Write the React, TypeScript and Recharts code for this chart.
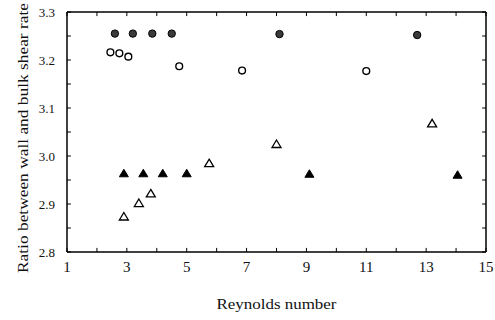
import { ScatterChart, Scatter, XAxis, YAxis, Label, ReferenceLine } from "recharts"

// Reynolds number (x) and wall/bulk shear rate ratio (y), one pair of arrays per marker type
const reFilledCircle = [2.6, 3.2, 3.85, 4.5, 8.1, 12.7]
const ratioFilledCircle = [3.255, 3.255, 3.255, 3.255, 3.254, 3.252]
const reOpenCircle = [2.45, 2.75, 3.05, 4.75, 6.85, 11.0]
const ratioOpenCircle = [3.216, 3.214, 3.207, 3.187, 3.178, 3.177]
const reFilledTriangle = [2.9, 3.55, 4.2, 5.0, 9.1, 14.05]
const ratioFilledTriangle = [2.964, 2.964, 2.964, 2.964, 2.963, 2.961]
const reOpenTriangle = [2.9, 3.4, 3.8, 5.75, 8.0, 13.2]
const ratioOpenTriangle = [2.874, 2.902, 2.922, 2.985, 3.025, 3.068]

const xTicks = [1, 2, 3, 4, 5, 6, 7, 8, 9, 10, 11, 12, 13, 14, 15]
const yTicks = [2.8, 2.85, 2.9, 2.95, 3.0, 3.05, 3.1, 3.15, 3.2, 3.25, 3.3]

const X_MIN = 1
const X_MAX = 15
const Y_MIN = 2.8
const Y_MAX = 3.3
// inward tick length, in data units (~4px)
const X_TICK_LEN = 0.13
const Y_TICK_LEN = 0.0085

const FONT = '"Liberation Serif", "Times New Roman", serif'

const toPoints = (xs: number[], ys: number[]) => xs.map((x, i) => ({ x, y: ys[i] }))

const FilledCircle = (p: any) => <circle cx={p.cx} cy={p.cy} r={3.7} fill="#3a3a3a" stroke="#000" strokeWidth={1} />
const OpenCircle = (p: any) => <circle cx={p.cx} cy={p.cy} r={3.4} fill="#fff" stroke="#000" strokeWidth={1.4} />
const triPath = (cx: number, cy: number) => `M${cx},${cy - 4} L${cx + 4.5},${cy + 3.5} L${cx - 4.5},${cy + 3.5} Z`
const FilledTriangle = (p: any) => <path d={triPath(p.cx, p.cy)} fill="#000" stroke="#000" strokeWidth={1} />
const OpenTriangle = (p: any) => <path d={triPath(p.cx, p.cy)} fill="#fff" stroke="#000" strokeWidth={1.3} />

const xLabel = (v: number) => (v % 2 === 1 ? String(v) : "")
const yLabel = (v: number) => (Math.abs(v * 10 - Math.round(v * 10)) < 1e-6 ? v.toFixed(1) : "")

function YTitle({ viewBox }: any) {
  const cx = viewBox.x + 28
  const cy = viewBox.y + viewBox.height / 2 + 6
  return (
    <text
      x={cx}
      y={cy}
      transform={`rotate(-90, ${cx}, ${cy})`}
      textAnchor="middle"
      fontFamily={FONT}
      fontSize={15}
      fill="#111"
      textLength={270}
      lengthAdjust="spacingAndGlyphs"
    >
      Ratio between wall and bulk shear rate
    </text>
  )
}

function XTitle({ viewBox }: any) {
  const cx = viewBox.x + viewBox.width / 2
  return (
    <text
      x={cx}
      y={309}
      textAnchor="middle"
      fontFamily={FONT}
      fontSize={15}
      fill="#111"
      textLength={120}
      lengthAdjust="spacingAndGlyphs"
    >
      Reynolds number
    </text>
  )
}

export default function App() {
  const axisLine = { stroke: "#000", strokeWidth: 1.5 }
  const tick = { stroke: "#000", strokeWidth: 1 }
  return (
    <div style={{ position: "absolute", left: 0, top: 0, background: "#fff" }}>
      <ScatterChart width={495} height={320} margin={{ top: 12, right: 9, left: 0, bottom: 0 }}>
        <XAxis
          xAxisId="b"
          type="number"
          dataKey="x"
          domain={[X_MIN, X_MAX]}
          allowDataOverflow
          ticks={xTicks}
          interval={0}
          tickFormatter={xLabel}
          tickLine={false}
          tickSize={0}
          tickMargin={9}
          height={68}
          axisLine={axisLine}
          tick={{ fontFamily: FONT, fontSize: 15, fill: "#111" }}
        >
          <Label content={<XTitle />} />
        </XAxis>
        <YAxis
          yAxisId="l"
          type="number"
          dataKey="y"
          domain={[Y_MIN, Y_MAX]}
          allowDataOverflow
          ticks={yTicks}
          interval={0}
          tickFormatter={yLabel}
          tickLine={false}
          tickSize={0}
          tickMargin={12}
          width={67}
          axisLine={axisLine}
          tick={{ fontFamily: FONT, fontSize: 13, fill: "#111" }}
        >
          <Label content={<YTitle />} />
        </YAxis>

        {/* frame: top and right edges */}
        <ReferenceLine xAxisId="b" yAxisId="l" y={Y_MAX} stroke="#000" strokeWidth={1.5} />
        <ReferenceLine xAxisId="b" yAxisId="l" x={X_MAX} stroke="#000" strokeWidth={1.5} />

        {/* inward ticks on all four sides */}
        {xTicks.map((v) => (
          <ReferenceLine
            key={`xb${v}`}
            xAxisId="b"
            yAxisId="l"
            segment={[{ x: v, y: Y_MIN }, { x: v, y: Y_MIN + Y_TICK_LEN }]}
            {...tick}
          />
        ))}
        {xTicks.map((v) => (
          <ReferenceLine
            key={`xt${v}`}
            xAxisId="b"
            yAxisId="l"
            segment={[{ x: v, y: Y_MAX }, { x: v, y: Y_MAX - Y_TICK_LEN }]}
            {...tick}
          />
        ))}
        {yTicks.map((v) => (
          <ReferenceLine
            key={`yl${v}`}
            xAxisId="b"
            yAxisId="l"
            segment={[{ x: X_MIN, y: v }, { x: X_MIN + X_TICK_LEN, y: v }]}
            {...tick}
          />
        ))}
        {yTicks.map((v) => (
          <ReferenceLine
            key={`yr${v}`}
            xAxisId="b"
            yAxisId="l"
            segment={[{ x: X_MAX, y: v }, { x: X_MAX - X_TICK_LEN, y: v }]}
            {...tick}
          />
        ))}

        <Scatter xAxisId="b" yAxisId="l" data={toPoints(reFilledCircle, ratioFilledCircle)} shape={FilledCircle} isAnimationActive={false} />
        <Scatter xAxisId="b" yAxisId="l" data={toPoints(reOpenCircle, ratioOpenCircle)} shape={OpenCircle} isAnimationActive={false} />
        <Scatter xAxisId="b" yAxisId="l" data={toPoints(reFilledTriangle, ratioFilledTriangle)} shape={FilledTriangle} isAnimationActive={false} />
        <Scatter xAxisId="b" yAxisId="l" data={toPoints(reOpenTriangle, ratioOpenTriangle)} shape={OpenTriangle} isAnimationActive={false} />
      </ScatterChart>
    </div>
  )
}
